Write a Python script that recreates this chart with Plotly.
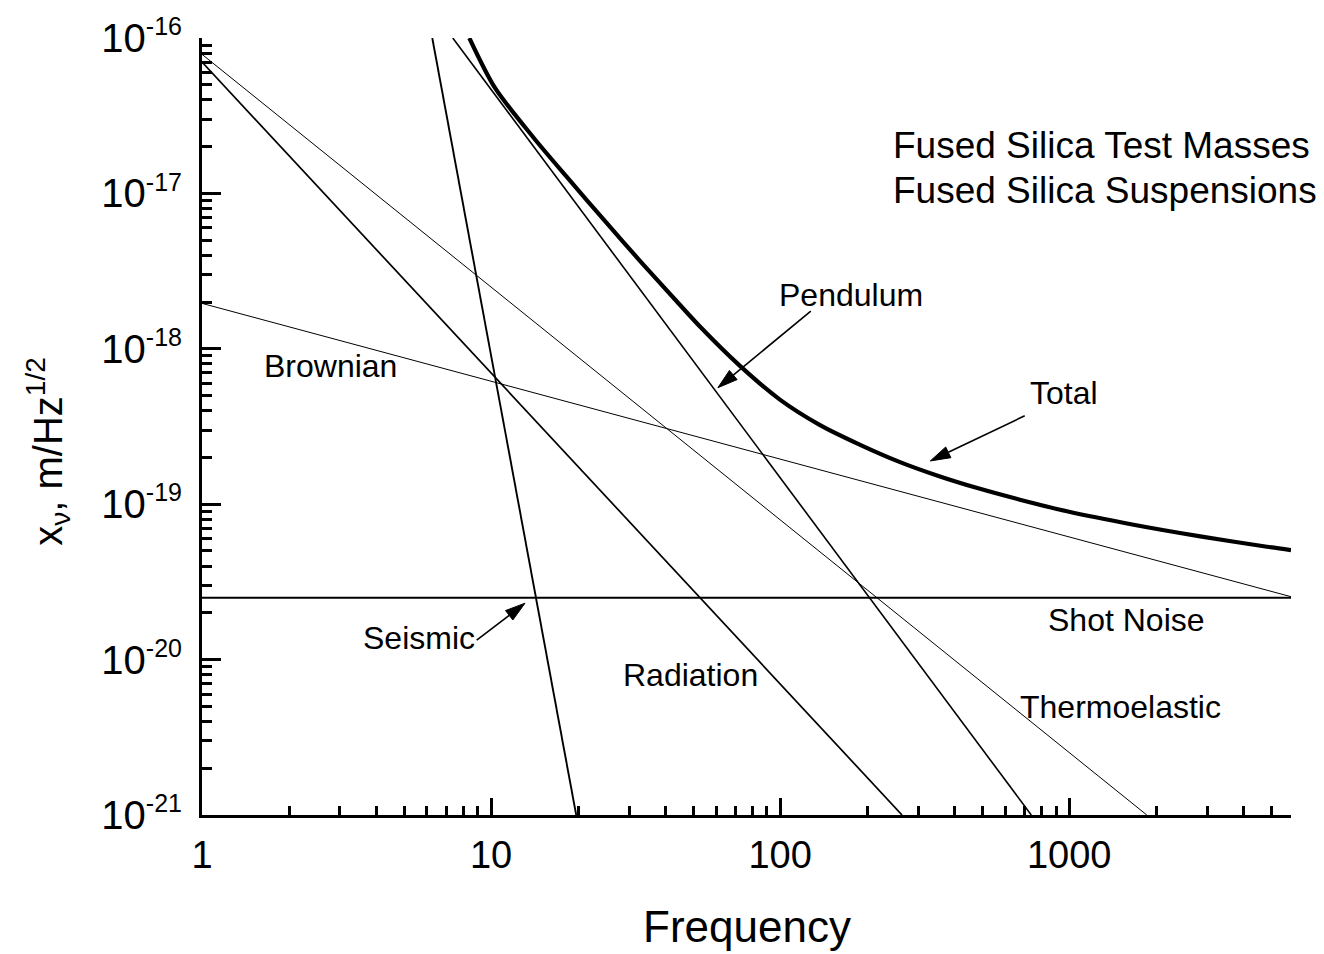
import plotly.graph_objects as go
import math

# ---------------- data ----------------
seismic_f = [6.26, 19.7]
seismic_x = [1.0e-16, 1.0e-21]

pendulum_f = [7.37, 739.0]
pendulum_x = [1.0e-16, 1.0e-21]

radiation_f = [1.0, 264.0]
radiation_x = [7.0e-17, 1.0e-21]

thermo_f = [1.0, 1855.0]
thermo_x = [7.85e-17, 1.0e-21]

brownian_f = [1.0, 5850.0]
brownian_x = [1.96e-18, 2.54e-20]

shot_f = [1.0, 5850.0]
shot_x = [2.5e-20, 2.5e-20]

total_f = [8.41, 10.32, 14.01, 18.28, 25.14, 32.78, 42.74, 52.88, 72.6, 99.8,
           136.9, 188.3, 258.5, 354.9, 487.8, 669.9, 982.0, 1669.0, 2840.0,
           4831.0, 5848.0]
total_x = [1.0e-16, 4.77e-17, 2.29e-17, 1.276e-17, 6.43e-18, 3.67e-18, 2.13e-18,
           1.385e-18, 7.76e-19, 4.71e-19, 3.24e-19, 2.42e-19, 1.873e-19, 1.514e-19,
           1.26e-19, 1.073e-19, 9.0e-20, 7.38e-20, 6.21e-20, 5.32e-20, 5.06e-20]

x_tick_vals = [1, 10, 100, 1000]
x_tick_text = ["1", "10", "100", "1000"]
x_minor_vals = [2, 3, 4, 5, 6, 7, 8, 9, 20, 30, 40, 50, 60, 70, 80, 90,
                200, 300, 400, 500, 600, 700, 800, 900, 2000, 3000, 4000, 5000]
y_exponents = [-16, -17, -18, -19, -20, -21]
y_minor_mult = [2, 3, 4, 5, 6, 7, 8, 9]

x_max = 5850.0
FONT = "Liberation Sans, Arial, sans-serif"

# ---------------- figure ----------------
W, H = 1324, 954
L, R, T, B = 202, 33, 30, 139

fig = go.Figure()


def add_line(f, x, width, **kw):
    fig.add_trace(go.Scatter(x=f, y=x, mode="lines",
                             line=dict(color="black", width=width, **kw),
                             showlegend=False, hoverinfo="skip"))


add_line(shot_f, shot_x, 1.8)
add_line(brownian_f, brownian_x, 1.0)
add_line(thermo_f, thermo_x, 1.0)
add_line(radiation_f, radiation_x, 1.7)
add_line(pendulum_f, pendulum_x, 1.6)
add_line(seismic_f, seismic_x, 1.9)
add_line(total_f, total_x, 4.2, shape="spline", smoothing=0.8)

y_tick_vals = [10.0 ** e for e in y_exponents]
y_tick_text = ["10<sup><span style='font-size:25px'>%d</span></sup>" % e for e in y_exponents]
y_minor_vals = [m * 10.0 ** e for e in y_exponents[1:] for m in y_minor_mult]

fig.update_xaxes(type="log", range=[0, math.log10(x_max)],
                 showline=True, linewidth=3, linecolor="black",
                 ticks="inside", ticklen=17, tickwidth=3, tickcolor="black",
                 tickmode="array", tickvals=x_tick_vals, ticktext=x_tick_text,
                 tickfont=dict(size=38, color="black", family=FONT),
                 ticklabelstandoff=4,
                 showgrid=False, zeroline=False,
                 minor=dict(ticks="inside", ticklen=9, tickwidth=3, tickcolor="black",
                            tickvals=x_minor_vals, showgrid=False))

fig.update_yaxes(type="log", range=[-21, -16],
                 showline=True, linewidth=3, linecolor="black",
                 ticks="inside", ticklen=19, tickwidth=3, tickcolor="black",
                 tickmode="array", tickvals=y_tick_vals, ticktext=y_tick_text,
                 tickfont=dict(size=40, color="black", family=FONT),
                 ticklabelstandoff=9,
                 showgrid=False, zeroline=False,
                 minor=dict(ticks="inside", ticklen=10, tickwidth=3, tickcolor="black",
                            tickvals=y_minor_vals, showgrid=False))


def paper(px, py):
    return (px - L) / (W - L - R), (H - B - py) / (H - T - B)


annotations = []
shapes = []


def label(text, px, py, size=32, xanchor="center"):
    xp, yp = paper(px, py)
    annotations.append(dict(text=text, x=xp, y=yp, xref="paper", yref="paper",
                            xanchor=xanchor, yanchor="middle", showarrow=False,
                            font=dict(size=size, color="black", family=FONT)))


def arrow(tip, tail, head_len=20.0, head_half=6.0):
    dx, dy = tip[0] - tail[0], tip[1] - tail[1]
    n = math.hypot(dx, dy)
    ux, uy = dx / n, dy / n
    bx, by = tip[0] - ux * head_len, tip[1] - uy * head_len
    c1 = (bx - uy * head_half, by + ux * head_half)
    c2 = (bx + uy * head_half, by - ux * head_half)
    x0, y0 = paper(*tail)
    x1, y1 = paper(bx, by)
    shapes.append(dict(type="line", xref="paper", yref="paper",
                       x0=x0, y0=y0, x1=x1, y1=y1,
                       line=dict(color="black", width=1.6)))
    pts = [paper(*tip), paper(*c1), paper(*c2)]
    path = "M %f,%f L %f,%f L %f,%f Z" % (pts[0][0], pts[0][1], pts[1][0], pts[1][1],
                                          pts[2][0], pts[2][1])
    shapes.append(dict(type="path", xref="paper", yref="paper", path=path,
                       fillcolor="black", line=dict(color="black", width=1)))


label("Brownian", 330, 361)
label("Pendulum", 851, 290)
label("Total", 1064, 389)
label("Seismic", 419, 636)
label("Radiation", 690, 674)
label("Shot Noise", 1126, 618)
label("Thermoelastic", 1120, 706)
label("Fused Silica Test Masses", 891, 139, size=37, xanchor="left")
label("Fused Silica Suspensions", 891, 184, size=37, xanchor="left")

arrow((717.9, 383.3), (810.8, 306.0))
arrow((930.3, 457.3), (1024.7, 411.7))
arrow((525.0, 601.0), (476.7, 638.3))

# axis titles
xp, yp = paper(746.5, 928)
annotations.append(dict(text="Frequency", x=xp, y=yp, xref="paper", yref="paper",
                        xanchor="center", yanchor="middle", showarrow=False,
                        font=dict(size=44, color="black", family=FONT)))
xp, yp = paper(48, 448)
annotations.append(dict(text="x<sub>ν</sub>, m/Hz<sup>1/2</sup>", x=xp, y=yp,
                        xref="paper", yref="paper", textangle=-90,
                        xanchor="center", yanchor="middle", showarrow=False,
                        font=dict(size=40, color="black", family=FONT)))

fig.update_layout(width=W, height=H, margin=dict(l=L, r=R, t=T, b=B, pad=0),
                  paper_bgcolor="white", plot_bgcolor="white",
                  font=dict(family=FONT, color="black"),
                  annotations=annotations, shapes=shapes, showlegend=False)

fig.write_html("out.html", config={"displayModeBar": False},
               post_script="document.body.style.margin='0';")
